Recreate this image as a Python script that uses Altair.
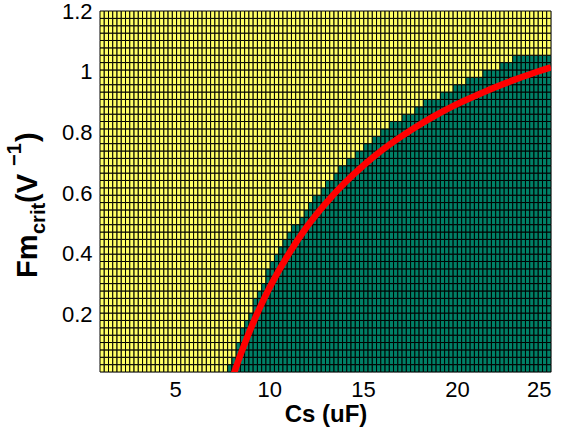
import altair as alt
import pandas as pd
import numpy as np

# ---- data ----
cs_limits = [1, 25]
fm_limits = [0.01, 1.2]
n_cols = 106
n_rows = 49
x_ticks = [5, 10, 15, 20, 25]
y_ticks = [0.2, 0.4, 0.6, 0.8, 1.0, 1.2]

# Cs value at which the dark (stable) region begins, for each row from the bottom (99 = none)
green_start = [7.90, 8.03, 8.16, 8.29, 8.43, 8.58, 8.73, 8.88, 9.04, 9.21,
               9.38, 9.56, 9.75, 9.94, 10.14, 10.35, 10.57, 10.80, 11.04, 11.29,
               11.55, 11.82, 12.11, 12.41, 12.72, 13.05, 13.40, 13.77, 14.16, 14.58,
               15.01, 15.48, 15.97, 16.50, 17.06, 17.66, 18.31, 19.01, 19.76, 20.57,
               21.45, 22.30, 22.90, 99, 99, 99, 99, 99, 99]

# red critical curve
curve_cs = [8.1, 8.5, 9.0, 9.5, 10, 11, 12, 13, 14, 15, 16, 17, 18, 19, 20, 21, 22, 23, 24, 25]
curve_fm = [0.0, 0.071, 0.150, 0.221, 0.285, 0.395, 0.488, 0.565, 0.632, 0.690, 0.741, 0.785,
            0.825, 0.861, 0.893, 0.921, 0.948, 0.972, 0.994, 1.014]

region_names = ["unstable", "stable"]
region_colors = ["#FFFF66", "#008066"]

# ---- build tables ----
xe = np.linspace(cs_limits[0], cs_limits[1], n_cols + 1)
ye = np.linspace(fm_limits[0], fm_limits[1], n_rows + 1)
recs = []
for j in range(n_rows):
    for i in range(n_cols):
        xc = 0.5 * (xe[i] + xe[i + 1])
        recs.append({
            "x": xe[i], "x2": xe[i + 1], "y": ye[j], "y2": ye[j + 1],
            "region": region_names[1] if xc >= green_start[j] else region_names[0],
        })
cells = pd.DataFrame(recs)
curve = pd.DataFrame({"cs": curve_cs, "fm": curve_fm})

FONT = "Liberation Sans"
W, H = 451, 361

xscale = alt.Scale(domain=cs_limits, nice=False, zero=False)
yscale = alt.Scale(domain=fm_limits, nice=False, zero=False)

xaxis = alt.Axis(values=x_ticks, grid=False, ticks=False, domain=False, labelFont=FONT,
                 labelFontSize=22, labelColor="black", labelPadding=7,
                 title="Cs (uF)", titleFont=FONT, titleFontSize=24, titleFontWeight="bold",
                 titleColor="black", titlePadding=2)
yaxis = alt.Axis(values=y_ticks, grid=False, ticks=False, domain=False, labelFont=FONT,
                 labelFontSize=22, labelColor="black", labelPadding=8, format="~g",
                 title=None)

rects = alt.Chart(cells).mark_rect(stroke="black", strokeWidth=1).encode(
    x=alt.X("x:Q", scale=xscale, axis=xaxis),
    x2="x2:Q",
    y=alt.Y("y:Q", scale=yscale, axis=yaxis),
    y2="y2:Q",
    color=alt.Color("region:N", scale=alt.Scale(domain=region_names, range=region_colors),
                    legend=None),
)

line = alt.Chart(curve).mark_line(color="#FF0000", strokeWidth=6.5, clip=True,
                                  interpolate="monotone").encode(
    x=alt.X("cs:Q", scale=xscale),
    y=alt.Y("fm:Q", scale=yscale),
)

# y-axis title pieces: text, size, x (plot coords), y start (plot coords)
title_parts = [
    ("Fm", 29, -63, 267),
    ("crit", 20, -55, 223),
    (" (V", 29, -63, 192),
    ("\u22121", 20, -79, 155),
    (")", 29, -63, 131),
]
title_layers = []
for txt, size, px, py in title_parts:
    title_layers.append(
        alt.Chart(pd.DataFrame({"t": [txt]})).mark_text(
            font=FONT, fontSize=size, fontWeight="bold", angle=270, align="left",
            baseline="alphabetic", color="black", clip=False,
        ).encode(text="t:N", x=alt.value(px), y=alt.value(py))
    )

chart = alt.layer(rects, line, *title_layers).properties(
    width=W, height=H,
    autosize=alt.AutoSizeParams(type="none"),
    padding={"left": 100, "top": 11, "right": 15, "bottom": 62},
).configure_view(stroke="black", strokeWidth=2).configure(background="white")

chart.save("out.html", embed_options={"renderer": "svg", "actions": False})
